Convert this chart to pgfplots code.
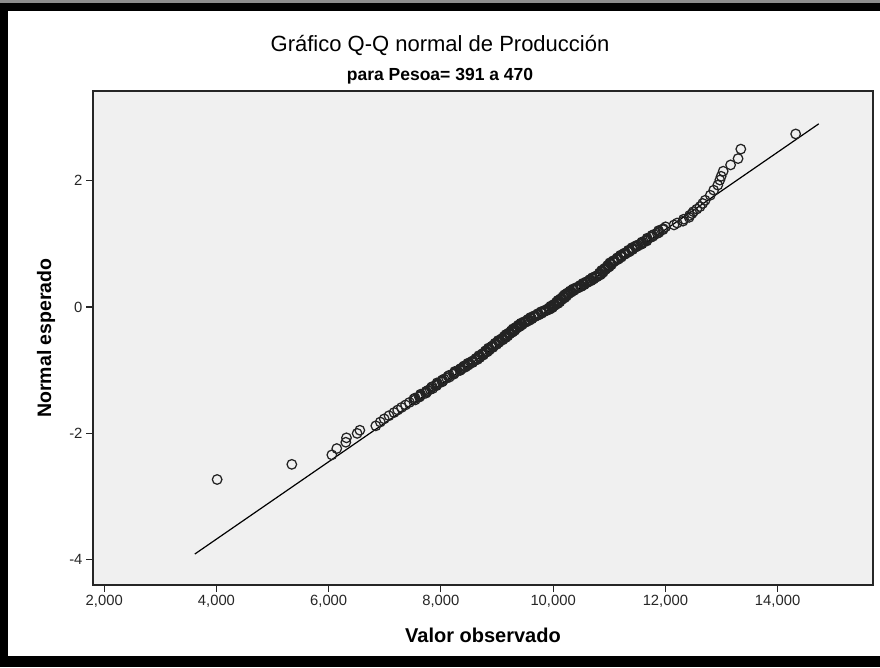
\documentclass[border=0pt]{standalone}
\usepackage{pgfplots}
\pgfplotsset{compat=1.18}
\usepackage{fontspec}
\setmainfont{Liberation Sans}
\definecolor{panel}{RGB}{240,240,240}
\definecolor{markgray}{RGB}{35,35,35}

% Observed production vs expected normal quantile
\pgfplotstableread{
obs expected
4012 -2.73
5343 -2.49
6056 -2.34
6144 -2.24
6305 -2.14
6317 -2.07
6507 -2.00
6555 -1.95
6840 -1.88
6920 -1.82
6990 -1.77
7075 -1.72
7165 -1.67
7230 -1.63
7298 -1.59
7370 -1.55
7440 -1.51
7542 -1.47
7540 -1.44
7628 -1.41
7637 -1.38
7745 -1.35
7765 -1.32
7853 -1.29
7846 -1.26
7929 -1.23
7932 -1.20
8035 -1.17
8056 -1.14
8150 -1.11
8149 -1.08
8238 -1.05
8247 -1.02
8356 -0.99
8362 -0.97
8438 -0.95
8418 -0.93
8489 -0.91
8480 -0.89
8571 -0.87
8576 -0.85
8652 -0.83
8629 -0.81
8693 -0.79
8676 -0.77
8759 -0.75
8758 -0.73
8826 -0.71
8799 -0.69
8863 -0.67
8846 -0.65
8929 -0.63
8928 -0.61
8996 -0.59
8970 -0.57
9035 -0.55
9020 -0.53
9105 -0.51
9098 -0.495
9159 -0.480
9125 -0.465
9182 -0.450
9158 -0.435
9234 -0.420
9225 -0.405
9286 -0.390
9253 -0.375
9309 -0.360
9285 -0.345
9361 -0.330
9353 -0.315
9414 -0.300
9380 -0.285
9443 -0.270
9427 -0.255
9510 -0.240
9508 -0.225
9576 -0.210
9550 -0.195
9613 -0.180
9596 -0.165
9680 -0.150
9678 -0.135
9749 -0.120
9727 -0.105
9795 -0.090
9783 -0.075
9871 -0.060
9875 -0.045
9948 -0.030
9922 -0.015
9980 0.000
9958 0.015
10035 0.030
10028 0.045
10090 0.060
10055 0.075
10110 0.090
10084 0.105
10159 0.120
10149 0.135
10208 0.150
10173 0.165
10228 0.180
10203 0.195
10277 0.210
10267 0.225
10327 0.240
10302 0.255
10368 0.270
10353 0.285
10439 0.300
10439 0.315
10510 0.330
10484 0.345
10548 0.360
10531 0.375
10614 0.390
10612 0.405
10680 0.420
10653 0.435
10716 0.450
10699 0.465
10783 0.480
10781 0.495
10854 0.52
10824 0.54
10883 0.56
10863 0.58
10942 0.60
10937 0.62
11001 0.64
10971 0.66
11030 0.68
11010 0.70
11089 0.72
11092 0.74
11165 0.76
11143 0.78
11211 0.80
11199 0.82
11287 0.84
11290 0.86
11363 0.88
11341 0.90
11413 0.92
11405 0.94
11497 0.96
11504 0.98
11582 1.00
11583 1.03
11673 1.06
11676 1.09
11779 1.12
11797 1.15
11886 1.18
11879 1.21
11962 1.24
12004 1.27
12154 1.30
12210 1.33
12314 1.36
12324 1.39
12423 1.42
12431 1.45
12475 1.48
12499 1.51
12560 1.55
12618 1.59
12665 1.64
12709 1.69
12800 1.77
12861 1.85
12934 1.93
12970 2.01
12994 2.07
13030 2.15
13162 2.25
13295 2.35
13344 2.50
14322 2.74
7518 -1.455
7617 -1.425
7640 -1.395
7728 -1.365
7735 -1.335
7809 -1.305
7827 -1.275
7920 -1.245
7938 -1.215
8021 -1.185
8025 -1.155
8103 -1.125
8127 -1.095
8226 -1.065
8250 -1.035
8339 -1.005
8339 -0.98
8400 -0.96
8405 -0.94
8486 -0.92
8492 -0.90
8563 -0.88
8553 -0.86
8614 -0.84
8618 -0.82
8693 -0.80
8692 -0.78
8755 -0.76
8738 -0.74
8792 -0.72
8790 -0.70
8863 -0.68
8862 -0.66
8925 -0.64
8908 -0.62
8962 -0.60
8960 -0.58
9035 -0.56
9035 -0.54
9100 -0.52
9081 -0.503
9144 -0.488
9135 -0.473
9191 -0.458
9168 -0.443
9214 -0.428
9205 -0.413
9271 -0.398
9262 -0.383
9319 -0.368
9295 -0.353
9341 -0.338
9332 -0.323
9399 -0.308
9390 -0.293
9449 -0.278
9433 -0.263
9486 -0.248
9484 -0.233
9557 -0.218
9556 -0.203
9619 -0.188
9602 -0.173
9656 -0.158
9654 -0.143
9729 -0.128
9731 -0.113
9799 -0.098
9787 -0.083
9845 -0.068
9848 -0.053
9927 -0.038
9928 -0.023
9989 -0.008
9967 0.008
10014 0.023
10007 0.038
10074 0.053
10065 0.068
10120 0.083
10095 0.098
10139 0.113
10129 0.128
10194 0.143
10183 0.158
10238 0.173
10213 0.188
10258 0.203
10247 0.218
10312 0.233
10307 0.248
10373 0.263
10358 0.278
10414 0.293
10414 0.308
10490 0.323
10490 0.338
10554 0.353
10537 0.368
10590 0.383
10588 0.398
10661 0.413
10659 0.428
10722 0.443
10705 0.458
10759 0.473
10757 0.488
10833 0.507
10832 0.53
10891 0.55
10871 0.57
10920 0.59
10915 0.61
10984 0.63
10979 0.65
11038 0.67
11018 0.69
11067 0.71
11066 0.73
11144 0.75
11147 0.77
11215 0.79
11203 0.81
11261 0.83
11264 0.85
11342 0.87
11345 0.89
11415 0.91
11407 0.93
11469 0.95
11476 0.97
11558 0.99
11575 1.015
11666 1.045
11672 1.075
11745 1.105
11763 1.135
11857 1.165
11875 1.195
11958 1.225
}\qqdata

\begin{document}
\begin{tikzpicture}[x=1pt,y=1pt]
\useasboundingbox (0,0) rectangle (880,667);
\fill[white] (0,0) rectangle (880,667);
% window frame
\fill[black] (0,0) rectangle (880,11);
\fill[black] (0,0) rectangle (8,664);
\fill[black] (0,656) rectangle (880,664);
\fill[black!45] (0,664) rectangle (880,667);

\begin{axis}[
  at={(93pt,82pt)}, anchor=south west,
  scale only axis, width=780pt, height=494pt,
  xmin=1800, xmax=15700, ymin=-4.40, ymax=3.42,
  axis background/.style={fill=panel},
  axis line style={draw=black!85, line width=1.3pt},
  xtick={2000,4000,6000,8000,10000,12000,14000},
  xticklabels={{2,000},{4,000},{6,000},{8,000},{10,000},{12,000},{14,000}},
  scaled x ticks=false,
  ytick={-4,-2,0,2},
  yticklabels={-4,-2,0,2},
  tick pos=left, tick align=outside,
  major tick length=7pt,
  tick style={black!85, line width=1.1pt},
  ticklabel style={font=\fontsize{14.8}{17}\selectfont, text=black!85},
  clip=false,
]
\addplot[only marks, mark=o, mark size=4.8pt,
  mark options={draw=markgray, line width=1.25pt}]
  table[x=obs, y=expected] {\qqdata};
\addplot[black, line width=1.2pt] coordinates {(3614,-3.91) (14733,2.90)};
\end{axis}

\node[font=\fontsize{22}{26}\selectfont] at (440,622) {Gráfico Q-Q normal de Producción};
\node[font=\bfseries\fontsize{17.5}{20}\selectfont] at (440,591) {para Pesoa= 391 a 470};
\node[font=\bfseries\fontsize{20}{24}\selectfont] at (483,32) {Valor observado};
\node[font=\bfseries\fontsize{19.5}{24}\selectfont, rotate=90] at (46,329) {Normal esperado};
\end{tikzpicture}
\end{document}
